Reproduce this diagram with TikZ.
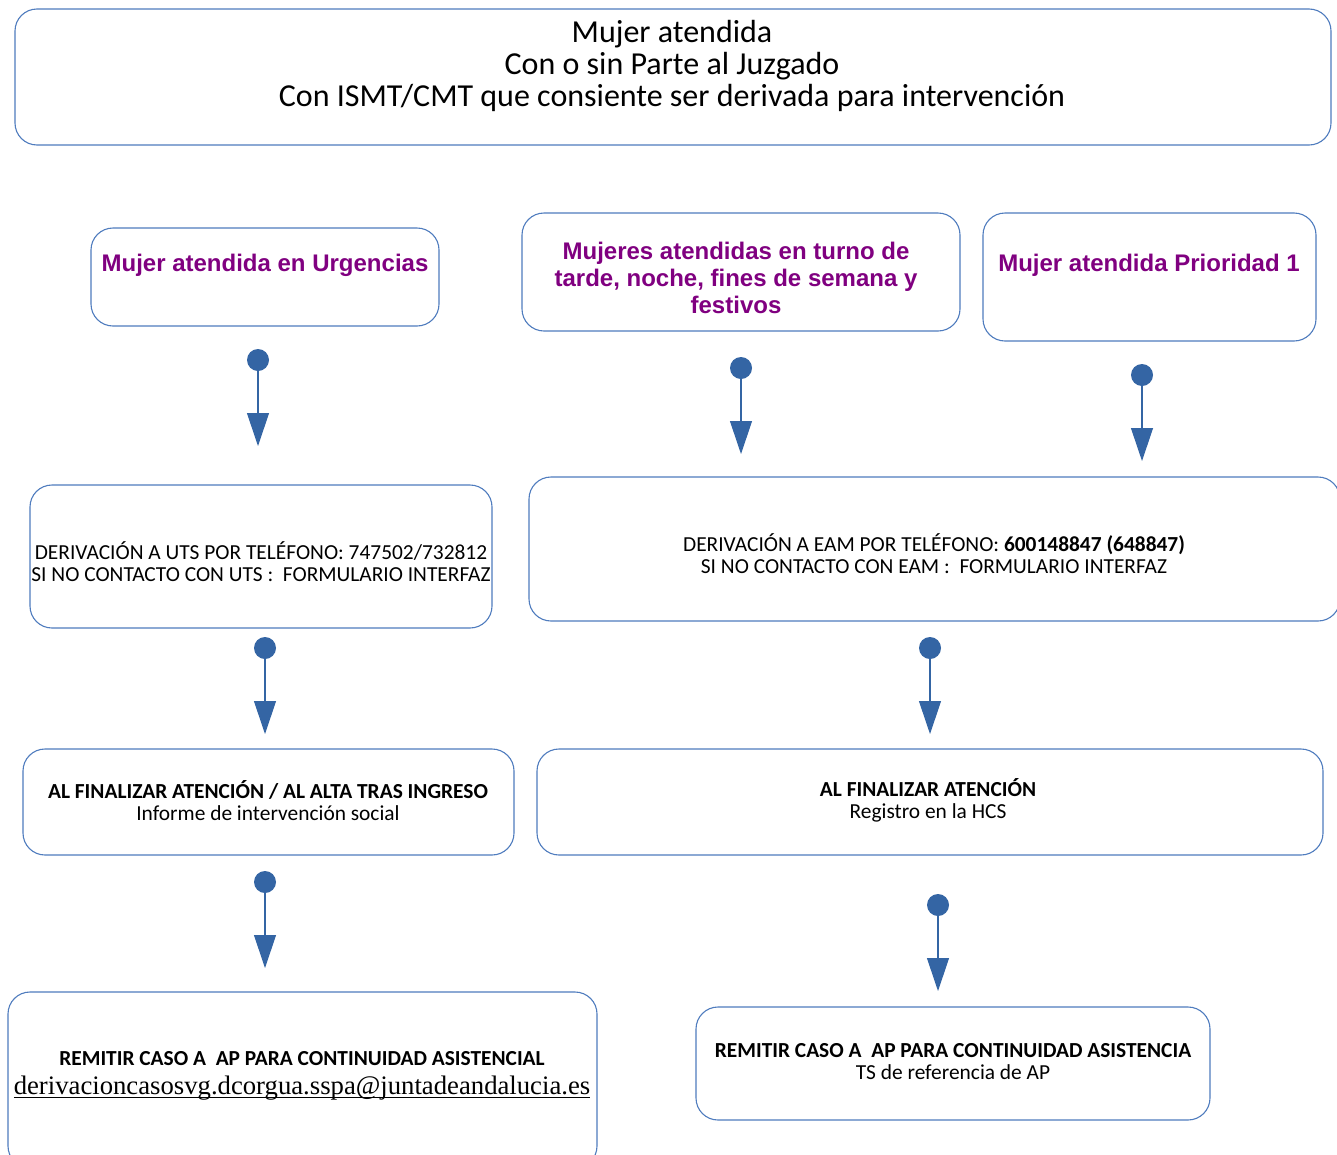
\documentclass[tikz,border=0pt]{standalone}
\usepackage{fontspec}
\setmainfont{Carlito}
\newfontfamily\arialf{Liberation Sans}
\newfontfamily\timesf{Liberation Serif}
\usetikzlibrary{arrows.meta}
\newcommand\ulbase[1]{\setbox0\hbox{#1}\rlap{\rule[-2.8pt]{\wd0}{0.9pt}}\box0}
\definecolor{boxblue}{RGB}{79,124,190}
\definecolor{dotblue}{RGB}{52,101,164}
\definecolor{purp}{RGB}{128,0,128}
\tikzset{
  box/.style={draw=boxblue, line width=1.1pt, rounded corners=22pt, inner sep=0pt},
  txt/.style={align=center, inner sep=0pt, text=black},
  ptxt/.style={align=center, inner sep=0pt, text=purp, font=\arialf\bfseries\fontsize{24}{27}\selectfont},
  btxt/.style={align=center, inner sep=0pt, font=\fontsize{21.4}{22}\selectfont},
  dot/.style={circle, fill=dotblue, minimum size=22pt, inner sep=0pt},
  conn/.style={draw=dotblue, line width=1.1pt, -{Triangle[width=22pt,length=33pt]}}
}
\begin{document}
\begin{tikzpicture}[x=1pt,y=-1pt]
\useasboundingbox (0,0) rectangle (1337,1154);
\fill[white] (0,0) rectangle (1337,1154);

% boxes
\node[box, minimum width=1316pt, minimum height=136pt] (top) at (673,77) {};
\node[box, minimum width=348pt, minimum height=98pt] (urg) at (265,277) {};
\node[box, minimum width=438pt, minimum height=118pt] (tur) at (741,272) {};
\node[box, minimum width=333pt, minimum height=128pt] (pri) at (1149.5,277) {};
\node[box, minimum width=462pt, minimum height=143pt] (uts) at (261,556.5) {};
\node[box, minimum width=811pt, minimum height=144pt] (eam) at (934.5,549) {};
\node[box, minimum width=491pt, minimum height=106pt] (finl) at (268.5,802) {};
\node[box, minimum width=786pt, minimum height=106pt] (finr) at (930,802) {};
\node[box, minimum width=589pt, minimum height=176pt] (reml) at (302.5,1080) {};
\node[box, minimum width=514pt, minimum height=113pt] (remr) at (953,1063.5) {};

% texts
\node[txt, font=\fontsize{32}{32}\selectfont] (toptxt) at (672,66)
  {Mujer atendida\\Con o sin Parte al Juzgado\\Con ISMT/CMT que consiente ser derivada para intervención};
\node[ptxt] (urgtxt) at (265,265) {Mujer atendida en Urgencias};
\node[ptxt] (turtxt) at (736,278) {Mujeres atendidas en turno de\\tarde, noche, fines de semana y\\festivos};
\node[ptxt] (pritxt) at (1149,265) {Mujer atendida Prioridad 1};
\node[btxt] (utstxt) at (261,561.5) {DERIVACIÓN A UTS POR TELÉFONO: 747502/732812\\SI NO CONTACTO CON UTS :~ FORMULARIO INTERFAZ};
\node[btxt] (eamtxt) at (934,553.5) {DERIVACIÓN A EAM POR TELÉFONO: \textbf{600148847 (648847)}\\SI NO CONTACTO CON EAM :~ FORMULARIO INTERFAZ};
\node[btxt] (finltxt) at (268,800.5) {\textbf{AL FINALIZAR ATENCIÓN / AL ALTA TRAS INGRESO}\\Informe de intervención social};
\node[btxt] (finrtxt) at (928,800.5) {\textbf{AL FINALIZAR ATENCIÓN}\\Registro en la HCS};
\node[btxt, font=\fontsize{21.4}{29}\selectfont] (remltxt) at (302,1076) {\textbf{REMITIR CASO A~ AP PARA CONTINUIDAD ASISTENCIAL}\\{\timesf\fontsize{26.7}{29}\selectfont\ulbase{derivacioncasosvg.dcorgua.sspa@juntadeandalucia.es}}};
\node[btxt] (remrtxt) at (953,1061.5) {\textbf{REMITIR CASO A~ AP PARA CONTINUIDAD ASISTENCIA}\\TS de referencia de AP};

% connectors
\node[dot] (d1) at (258,360) {};
\coordinate (t1) at (258,446);
\draw[conn] (d1) -- (t1);
\node[dot] (d2) at (741,368) {};
\coordinate (t2) at (741,454);
\draw[conn] (d2) -- (t2);
\node[dot] (d3) at (1142,375) {};
\coordinate (t3) at (1142,461);
\draw[conn] (d3) -- (t3);
\node[dot] (d4) at (265,648) {};
\coordinate (t4) at (265,734);
\draw[conn] (d4) -- (t4);
\node[dot] (d5) at (930,648) {};
\coordinate (t5) at (930,734);
\draw[conn] (d5) -- (t5);
\node[dot] (d6) at (265,882) {};
\coordinate (t6) at (265,968);
\draw[conn] (d6) -- (t6);
\node[dot] (d7) at (938,905) {};
\coordinate (t7) at (938,991);
\draw[conn] (d7) -- (t7);
\end{tikzpicture}
\end{document}
